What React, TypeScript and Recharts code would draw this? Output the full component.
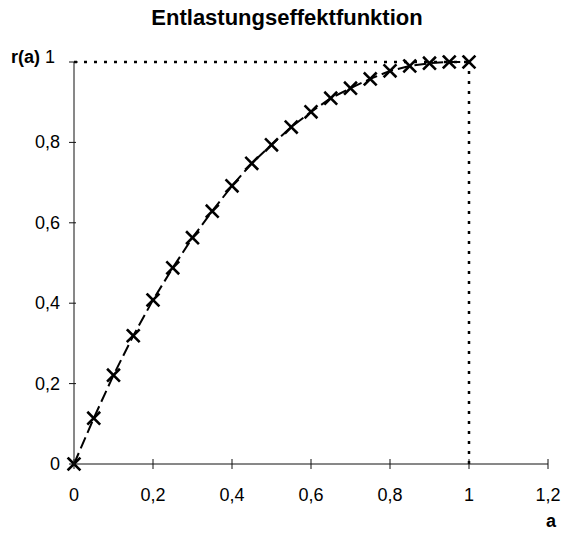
import { CartesianGrid, Line, LineChart, ReferenceLine, XAxis, YAxis } from "recharts";

const aValues = [
  0, 0.05, 0.1, 0.15, 0.2, 0.25, 0.3, 0.35, 0.4, 0.45, 0.5, 0.55, 0.6, 0.65,
  0.7, 0.75, 0.8, 0.85, 0.9, 0.95, 1.0,
];
const rValues = [
  0, 0.114, 0.221, 0.319, 0.408, 0.488, 0.563, 0.629, 0.692, 0.748, 0.794,
  0.838, 0.876, 0.91, 0.935, 0.958, 0.978, 0.99, 0.997, 1.0, 1.0,
];
const xTicks = [0, 0.2, 0.4, 0.6, 0.8, 1, 1.2];
const yTicks = [0, 0.2, 0.4, 0.6, 0.8, 1];

const title = "Entlastungseffektfunktion";
const yName = "r(a)";
const xName = "a";

const data = aValues.map((a, i) => ({ a, r: rValues[i] }));

const font = "'Liberation Sans', Arial, sans-serif";
const fmt = (v: number) => String(v).replace(".", ",");

const XTick = (props: any) => {
  const { x, y, payload } = props;
  return (
    <g>
      <line x1={x} x2={x} y1={y - 13} y2={y - 3} stroke="#111" strokeWidth={1} />
      <text x={x} y={y + 29} textAnchor="middle" fontSize={18} fontFamily={font} fill="#000">
        {fmt(payload.value)}
      </text>
    </g>
  );
};

const YTick = (props: any) => {
  const { x, y, payload } = props;
  const top = payload.value === 1;
  return (
    <g>
      <line x1={x + 3} x2={top ? x + 12 : x + 10} y1={y} y2={y} stroke="#111" strokeWidth={1} />
      {top ? (
        <text x={x - 11} y={y + 1} textAnchor="end" fontSize={18} fontFamily={font} fill="#000">
          <tspan fontWeight="bold">{yName}</tspan> {fmt(payload.value)}
        </text>
      ) : (
        <text x={x - 6} y={y + 6} textAnchor="end" fontSize={18} fontFamily={font} fill="#000">
          {fmt(payload.value)}
        </text>
      )}
    </g>
  );
};

const Cross = (props: any) => {
  const { cx, cy } = props;
  if (cx == null || cy == null) return null;
  const s = 5.5;
  return (
    <g stroke="#000" strokeWidth={2.6} strokeLinecap="square">
      <line x1={cx - s} y1={cy - s} x2={cx + s} y2={cy + s} />
      <line x1={cx - s} y1={cy + s} x2={cx + s} y2={cy - s} />
    </g>
  );
};

export default function App() {
  return (
    <div
      style={{
        position: "absolute",
        left: 0,
        top: 0,
        width: 574,
        height: 537,
        background: "#fff",
      }}
    >
      <div
        style={{
          position: "absolute",
          top: 6,
          left: 0,
          width: 574,
          textAlign: "center",
          fontFamily: font,
          fontWeight: "bold",
          fontSize: 22,
          lineHeight: "24px",
        }}
      >
        {title}
      </div>
      <div
        style={{
          position: "absolute",
          top: 511,
          left: 546,
          fontFamily: font,
          fontWeight: "bold",
          fontSize: 18,
          lineHeight: "20px",
        }}
      >
        {xName}
      </div>
      <LineChart
        width={574}
        height={537}
        data={data}
        margin={{ top: 62, right: 26, left: 0, bottom: 0 }}
      >
        <CartesianGrid stroke="none" />
        <XAxis
          dataKey="a"
          type="number"
          domain={[0, 1.2]}
          ticks={xTicks}
          height={73}
          tickSize={6}
          tickMargin={2}
          tickLine={false}
          axisLine={{ stroke: "#111", strokeWidth: 1 }}
          tick={XTick}
          interval={0}
        />
        <YAxis
          type="number"
          domain={[0, 1]}
          ticks={yTicks}
          width={74}
          tickSize={6}
          tickMargin={2}
          tickLine={false}
          axisLine={{ stroke: "#111", strokeWidth: 1 }}
          tick={YTick}
          interval={0}
        />
        <ReferenceLine
          segment={[
            { x: 0, y: 1 },
            { x: 1, y: 1 },
          ]}
          stroke="#000"
          strokeWidth={2.5}
          strokeDasharray="3 7"
        />
        <ReferenceLine
          segment={[
            { x: 1, y: 0 },
            { x: 1, y: 1 },
          ]}
          stroke="#000"
          strokeWidth={2.5}
          strokeDasharray="3 7"
        />
        <Line
          type="linear"
          dataKey="r"
          stroke="#000"
          strokeWidth={2}
          strokeDasharray="12 5"
          dot={<Cross />}
          activeDot={false}
          isAnimationActive={false}
        />
      </LineChart>
    </div>
  );
}
